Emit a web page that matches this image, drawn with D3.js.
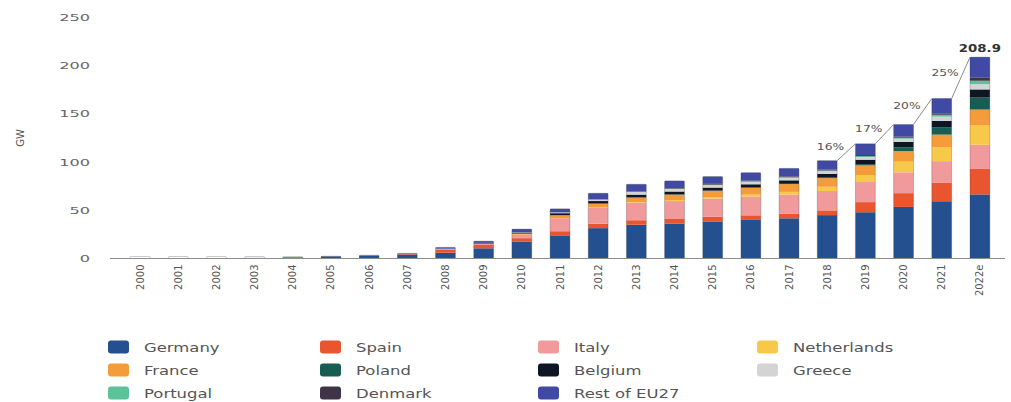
<!DOCTYPE html>
<html>
<head>
<meta charset="utf-8">
<script src="https://cdn.jsdelivr.net/npm/d3@7"></script>
<style>
  body { margin: 0; background: #fff; }
  text { font-family: "DejaVu Sans", sans-serif; }
</style>
</head>
<body>
<svg width="1011" height="402"></svg>
<script>
// cumulative installed solar PV capacity, GW
var years = ["2000","2001","2002","2003","2004","2005","2006","2007","2008","2009","2010","2011",
             "2012","2013","2014","2015","2016","2017","2018","2019","2020","2021","2022e"];

var countries = ["Germany","Spain","Italy","Netherlands","France","Poland","Belgium",
                 "Greece","Portugal","Denmark","Rest of EU27"];
var colors = ["#24508f","#e9552e","#f19a9c","#f7c948","#f49c3a","#175d53","#0e1626",
              "#d4d4d4","#5cc29a","#3e3347","#4049a3"];

var germany     = [0.1,0.2,0.3,0.4,1.1,2.1,2.9,4.2,6,10.6,17.3,24,31.5,35,36.3,38.5,40,41.7,45,48,53.5,59.4,66.5];
var spain       = [0,0,0,0,0,0.1,0.2,0.7,3.4,3.4,3.8,4.3,4.6,4.7,4.7,4.8,4.8,4.8,4.9,10.5,14.3,19,26.4];
var italy       = [0,0,0,0,0,0,0,0.1,0.5,1.1,3.5,13.5,16.4,18.2,18.6,18.9,19.3,19.7,20.1,20.9,21.6,22.6,25.1];
var netherlands = [0,0,0,0,0,0,0,0,0,0,0.1,0.1,0.4,0.7,1.0,1.5,2.1,2.9,4.4,7.2,11,14.3,20];
var france      = [0,0,0,0,0,0,0,0,0.1,0.3,1.2,3.0,4.1,4.7,5.7,6.6,7.2,8.1,9.0,10,11,13.2,16.5];
var poland      = [0,0,0,0,0,0,0,0,0,0,0,0,0,0,0.1,0.1,0.2,0.3,0.5,1.3,3.9,7.7,12.4];
var belgium     = [0,0,0,0,0,0,0,0,0.1,0.6,1.0,2.1,2.6,3.0,3.1,3.2,3.4,3.6,4.0,4.6,5.6,6.5,8.5];
var greece      = [0,0,0,0,0,0,0,0,0,0.1,0.2,0.6,1.5,2.6,2.6,2.6,2.6,2.6,2.7,2.8,3.3,4.5,5.5];
var portugal    = [0,0,0,0,0,0,0,0,0.1,0.1,0.1,0.2,0.2,0.3,0.4,0.4,0.5,0.6,0.7,0.9,1.1,1.9,3.5];
var denmark     = [0,0,0,0,0,0,0,0,0,0,0,0.1,0.4,0.5,0.6,0.8,0.9,0.9,1.0,1.1,1.3,1.5,3.5];
var restEU      = [0.1,0.1,0.1,0.2,0.2,0.2,0.3,0.4,1.3,1.8,3.3,3.6,6.0,7.3,7.4,7.6,8.0,8.3,9.2,11.7,12.4,15.4,21.0];

// growth labels on the line, for 2019 .. 2022e
var growthYears = ["2019","2020","2021","2022e"];
var growthLabels = ["16%","17%","20%","25%"];

var yTicks = [0, 50, 100, 150, 200, 250];

var series = [germany, spain, italy, netherlands, france, poland, belgium, greece, portugal, denmark, restEU];

var table = years.map(function(yr, i) {
  var row = { year: yr };
  countries.forEach(function(c, j) { row[c] = series[j][i]; });
  row.total = d3.sum(series, function(s) { return s[i]; });
  return row;
});

var svg = d3.select("svg");

var x = d3.scaleBand()
    .domain(years)
    .range([121, 999])
    .paddingInner(0.48)
    .paddingOuter(0.24);

var y = d3.scaleLinear()
    .domain([0, 250])
    .range([258.5, 17.5]);

var color = d3.scaleOrdinal().domain(countries).range(colors);

// stretch text horizontally, the original font is very wide
function stretch(sel, k) {
  sel.each(function() {
    var w = this.getComputedTextLength();
    d3.select(this).attr("textLength", w * k).attr("lengthAdjust", "spacingAndGlyphs");
  });
}

var stacked = d3.stack().keys(countries)(table);

svg.append("g")
  .selectAll("g")
  .data(stacked)
  .enter().append("g")
    .attr("fill", function(d) { return color(d.key); })
  .selectAll("rect")
  .data(function(d) { return d; })
  .enter().append("rect")
    .attr("x", function(d) { return x(d.data.year); })
    .attr("y", function(d) { return y(d[1]); })
    .attr("width", x.bandwidth())
    .attr("height", function(d) { return y(d[0]) - y(d[1]); });

// thin outline round every bar
svg.append("g")
  .selectAll("rect")
  .data(table)
  .enter().append("rect")
    .attr("x", function(d) { return x(d.year); })
    .attr("y", function(d) { return Math.min(y(d.total), y(0) - 2); })
    .attr("width", x.bandwidth())
    .attr("height", function(d) { return Math.max(y(0) - y(d.total), 2); })
    .attr("rx", 1.5)
    .attr("fill", "none")
    .attr("stroke", "rgba(60,60,60,0.35)")
    .attr("stroke-width", 0.8);

// baseline
svg.append("line")
    .attr("x1", 110).attr("x2", 1005)
    .attr("y1", y(0)).attr("y2", y(0))
    .attr("stroke", "#8c8c8c")
    .attr("stroke-width", 1);

// y axis
var yAxis = svg.append("g")
    .attr("transform", "translate(110,0)")
    .call(d3.axisLeft(y).tickValues(yTicks).tickSize(0).tickPadding(20));
yAxis.select(".domain").remove();
yAxis.selectAll("text")
    .attr("fill", "#666")
    .style("font-size", "9.5px");
stretch(yAxis.selectAll("text"), 1.7);

svg.append("text")
    .attr("transform", "translate(24,138) rotate(-90)")
    .attr("text-anchor", "middle")
    .attr("fill", "#555")
    .style("font-size", "10px")
    .text("GW");

// x axis
var xAxis = svg.append("g")
    .attr("transform", "translate(0," + y(0) + ")")
    .call(d3.axisBottom(x).tickSize(0));
xAxis.select(".domain").remove();
xAxis.selectAll("text")
    .attr("transform", "rotate(-90)")
    .attr("x", -6)
    .attr("y", 0)
    .attr("dy", "0.35em")
    .attr("text-anchor", "end")
    .attr("fill", "#555")
    .style("font-size", "10px");

// growth line from bar to bar
var byYear = {};
table.forEach(function(d) { byYear[d.year] = d; });

var gLine = svg.append("g");
growthYears.forEach(function(yr, i) {
  var prev = years[years.indexOf(yr) - 1];
  var x1 = x(prev) + x.bandwidth(), y1 = y(byYear[prev].total);
  var x2 = x(yr), y2 = y(byYear[yr].total);
  gLine.append("line")
      .attr("x1", x1).attr("y1", y1)
      .attr("x2", x2).attr("y2", y2)
      .attr("stroke", "#8a8a8a")
      .attr("stroke-width", 1);
  gLine.append("text")
      .attr("x", (x1 + x2) / 2 - 2)
      .attr("y", (y1 + y2) / 2 - 2)
      .attr("text-anchor", "end")
      .attr("fill", "#555")
      .style("font-size", "8.5px")
      .text(growthLabels[i]);
});
stretch(gLine.selectAll("text"), 1.45);

// total on the last bar
var last = table[table.length - 1];
var totalLabel = svg.append("text")
    .attr("x", x(last.year) + x.bandwidth() / 2)
    .attr("y", y(last.total) - 5)
    .attr("text-anchor", "middle")
    .attr("fill", "#333")
    .style("font-size", "10px")
    .style("font-weight", "bold")
    .text(d3.format(".1f")(last.total));
stretch(totalLabel, 1.33);

// legend, 4 columns
var colX = [108, 320, 538, 757],
    rowY = [347, 370, 393];

var legend = svg.append("g")
  .selectAll("g")
  .data(countries)
  .enter().append("g")
    .attr("transform", function(d, i) {
      return "translate(" + colX[i % 4] + "," + rowY[Math.floor(i / 4)] + ")";
    });

legend.append("rect")
    .attr("x", 0).attr("y", -6.5)
    .attr("width", 21).attr("height", 13)
    .attr("rx", 3)
    .attr("fill", function(d) { return color(d); });

legend.append("text")
    .attr("x", 36)
    .attr("y", 4.5)
    .attr("fill", "#555")
    .style("font-size", "12px")
    .text(function(d) { return d; });
stretch(legend.selectAll("text"), 1.37);
</script>
</body>
</html>
